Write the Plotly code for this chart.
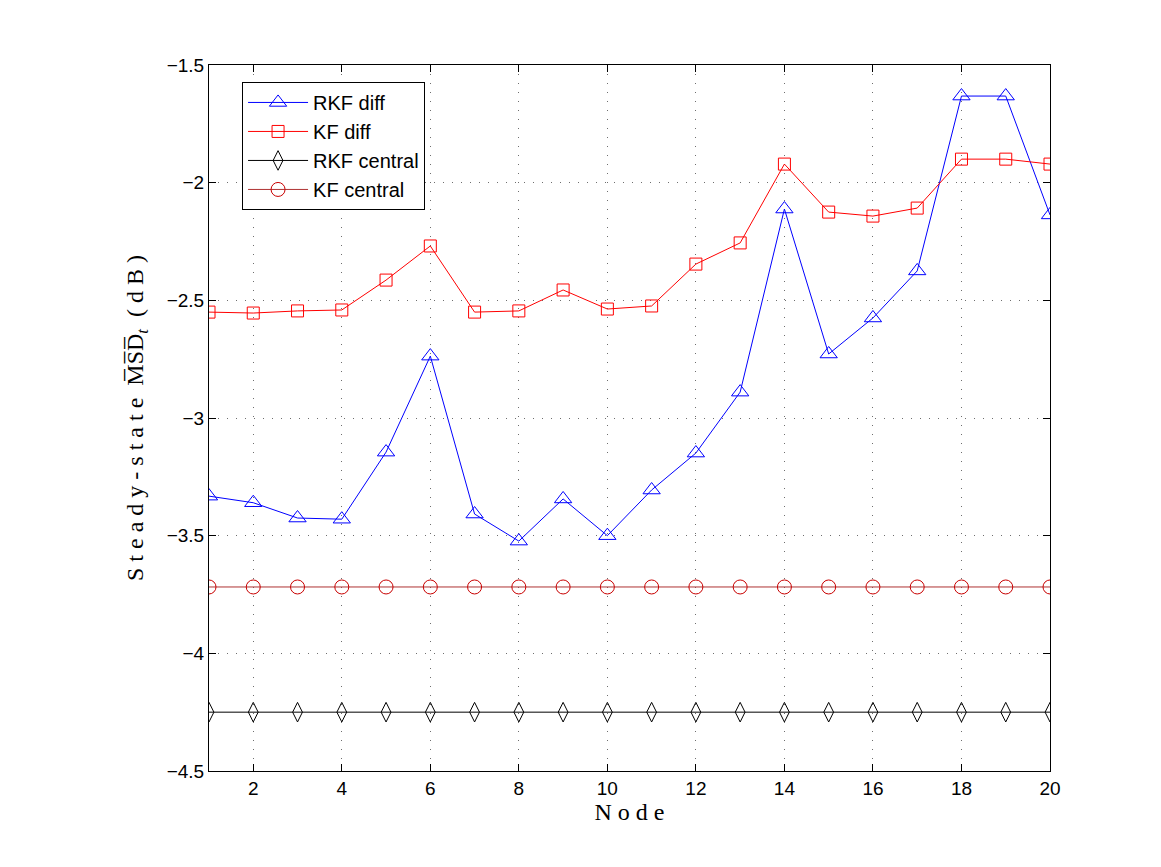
import plotly.graph_objects as go

nodes = list(range(1, 21))
rkf_diff = [-3.332, -3.36, -3.425, -3.43, -3.145, -2.737, -3.408, -3.523, -3.344, -3.50,
            -3.306, -3.149, -2.89, -2.112, -2.728, -2.575, -2.375, -1.632, -1.632, -2.137]
kf_diff = [-2.55, -2.554, -2.545, -2.541, -2.414, -2.269, -2.55, -2.545, -2.456, -2.537,
           -2.524, -2.346, -2.256, -1.921, -2.125, -2.142, -2.108, -1.90, -1.90, -1.921]
rkf_central = [-4.25] * 20
kf_central = [-3.718] * 20

x_ticks = [2, 4, 6, 8, 10, 12, 14, 16, 18, 20]
y_ticks = [-4.5, -4, -3.5, -3, -2.5, -2, -1.5]

fig = go.Figure()
fig.add_trace(go.Scatter(x=nodes, y=rkf_diff, name="RKF diff", mode="lines+markers",
                         line=dict(color="#0000FF", width=1),
                         marker=dict(symbol="triangle-up-open", size=15, color="#0000FF",
                                     line=dict(width=1))))
fig.add_trace(go.Scatter(x=nodes, y=kf_diff, name="KF diff", mode="lines+markers",
                         line=dict(color="#FF0000", width=1),
                         marker=dict(symbol="square-open", size=12, color="#FF0000",
                                     line=dict(width=1))))
fig.add_trace(go.Scatter(x=nodes, y=rkf_central, name="RKF central", mode="lines+markers",
                         line=dict(color="#000000", width=1),
                         marker=dict(symbol="diamond-tall-open", size=14, color="#000000",
                                     line=dict(width=1))))
fig.add_trace(go.Scatter(x=nodes, y=kf_central, name="KF central", mode="lines+markers",
                         line=dict(color="rgb(175,50,50)", width=1),
                         marker=dict(symbol="circle-open", size=14, color="rgb(200,0,0)",
                                     line=dict(width=1))))

axis_common = dict(showline=True, linecolor="black", linewidth=1, mirror="ticks",
                   ticks="inside", ticklen=7, tickcolor="black",
                   showgrid=True, gridcolor="rgb(110,110,110)", griddash="1px,8px", gridwidth=1,
                   zeroline=False,
                   tickfont=dict(family="Liberation Sans, Arial, sans-serif", size=19, color="black"))

fig.update_xaxes(range=[1, 20], tickvals=x_ticks, ticktext=[str(t) for t in x_ticks],
                 title=dict(text="N o d e", font=dict(family="Liberation Serif, serif", size=24, color="black"),
                            standoff=2),
                 **axis_common)
fig.update_yaxes(range=[-4.5, -1.5], tickvals=y_ticks, ticktext=[f"{t:g}".replace("-", "\u2212") for t in y_ticks],
                 title=dict(text="S t e a d y - s t a t e  M\u0305S\u0305D\u0305<sub><i>t</i></sub>  ( d B )",
                            font=dict(family="Liberation Serif, serif", size=24, color="black"),
                            standoff=16),
                 **axis_common)

fig.update_layout(
    width=1161, height=867,
    margin=dict(l=209, r=111, t=65, b=96),
    paper_bgcolor="white", plot_bgcolor="white",
    showlegend=True,
    legend=dict(x=0.0393, y=0.976, xanchor="left", yanchor="top",
                bgcolor="white", bordercolor="black", borderwidth=1,
                font=dict(family="Liberation Sans, Arial, sans-serif", size=20, color="black"),
                itemwidth=60, tracegroupgap=2),
)

fig.write_html("out.html")
